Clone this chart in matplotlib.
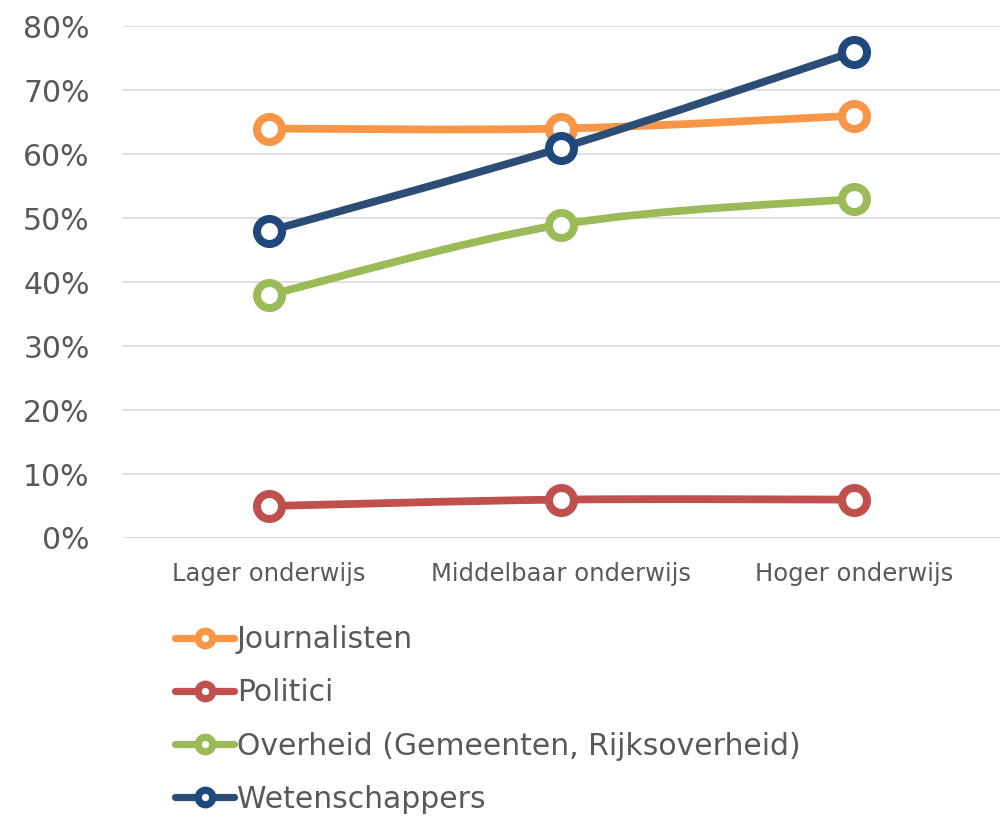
import matplotlib
matplotlib.use("Agg")
import matplotlib.pyplot as plt
from matplotlib.path import Path
from matplotlib.patches import PathPatch
from matplotlib.lines import Line2D
from matplotlib.ticker import FuncFormatter

categories = ["Lager onderwijs", "Middelbaar onderwijs", "Hoger onderwijs"]
series_names = ["Journalisten", "Politici",
                "Overheid (Gemeenten, Rijksoverheid)", "Wetenschappers"]
journalisten = [0.64, 0.64, 0.66]
politici = [0.05, 0.06, 0.06]
overheid = [0.38, 0.49, 0.53]
wetenschappers = [0.48, 0.61, 0.76]
y_ticks = [0.0, 0.1, 0.2, 0.3, 0.4, 0.5, 0.6, 0.7, 0.8]

line_colors = ["#F79646", "#C0504D", "#9BBB59", "#2C4D75"]
marker_colors = ["#F79646", "#C0504D", "#9BBB59", "#1F497D"]
text_color = "#595959"


def smooth_path(xs, ys):
    # cubic bezier through the points, Excel-style smoothing
    pts = list(zip(xs, ys))
    n = len(pts)
    verts = [pts[0]]
    codes = [Path.MOVETO]
    for i in range(n - 1):
        p0 = pts[max(i - 1, 0)]
        p1 = pts[i]
        p2 = pts[i + 1]
        p3 = pts[min(i + 2, n - 1)]
        c1 = (p1[0] + (p2[0] - p0[0]) / 6, p1[1] + (p2[1] - p0[1]) / 6)
        c2 = (p2[0] - (p3[0] - p1[0]) / 6, p2[1] - (p3[1] - p1[1]) / 6)
        verts += [c1, c2, p2]
        codes += [Path.CURVE4] * 3
    return Path(verts, codes)


fig = plt.figure(figsize=(10.04, 8.18), dpi=100)
ax = fig.add_axes([0.1225, 0.3423, 0.8735, 0.6257])

x = list(range(len(categories)))
all_series = [journalisten, politici, overheid, wetenschappers]

for vals, lc, mc in zip(all_series, line_colors, marker_colors):
    ax.add_patch(PathPatch(smooth_path(x, vals), fill=False, edgecolor=lc,
                           linewidth=5.6, capstyle="round", joinstyle="round"))
    ax.plot(x, vals, linestyle="none", marker="o", markersize=18,
            markerfacecolor="white", markeredgecolor=mc, markeredgewidth=5.8)

ax.set_xlim(-0.5, len(categories) - 0.5)
ax.set_ylim(0, 0.8)
ax.set_yticks(y_ticks)
ax.yaxis.set_major_formatter(FuncFormatter(lambda v, p: f"{v * 100:.0f}%"))
ax.set_xticks(x)
ax.set_xticklabels(categories)
ax.tick_params(axis="y", length=0, pad=24, labelsize=21.5, labelcolor=text_color)
ax.tick_params(axis="x", length=0, pad=17, labelsize=17.5, labelcolor=text_color)
ax.grid(True, axis="y", color="#D9D9D9", linewidth=1.2)
ax.set_axisbelow(True)
for s in ax.spines.values():
    s.set_visible(False)

handles = [Line2D([], [], color=lc, linewidth=5.2, marker="o", markersize=10.5,
                  markerfacecolor="white", markeredgecolor=mc,
                  markeredgewidth=5.2, solid_capstyle="round")
           for lc, mc in zip(line_colors, marker_colors)]
fig.legend(handles, series_names, loc="upper left",
           bbox_to_anchor=(0.174, 0.2357), frameon=False, fontsize=21.5,
           labelcolor=text_color, handlelength=2.0, handletextpad=0.08,
           labelspacing=0.81, borderaxespad=0, borderpad=0)

fig.savefig("out.png", dpi=100)
